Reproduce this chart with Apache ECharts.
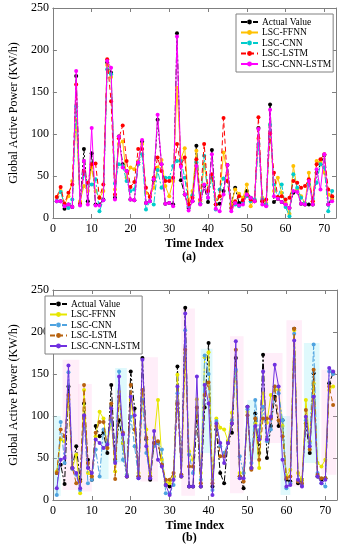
<!DOCTYPE html>
<html><head><meta charset="utf-8">
<script src="https://cdn.jsdelivr.net/npm/echarts@6/dist/echarts.min.js"></script>
<style>html,body{margin:0;padding:0;background:#fff}#c{width:346px;height:550px}</style>
</head><body><div id="c"></div>
<script>
const seriesNames = ['Actual Value','LSC-FFNN','LSC-CNN','LSC-LSTM','LSC-CNN-LSTM'];
const xTicks = [0,10,20,30,40,50,60,70];
const yTicks = [0,50,100,150,200,250];

// (a)
const actualA = [20,20,11,16,13,169,16,82,20,77,16,16,22,185,173,24,97,64,56,22,21,66,91,18,20,45,117,64,17,18,16,220,45,28,12,20,86,17,38,19,81,16,17,32,63,17,36,18,20,32,24,20,107,20,15,135,19,23,19,16,12,30,32,17,16,16,16,54,64,75,16,25];
const ffnnA = [25,32,16,26,44,117,20,38,32,60,32,24,32,182,168,34,88,91,48,60,58,68,88,30,26,36,60,69,38,26,44,155,70,83,20,32,80,20,64,32,50,22,26,78,52,16,34,29,24,40,14,22,95,24,18,111,32,48,30,18,5,62,34,26,18,54,20,68,66,54,28,22];
const cnnA = [20,31,16,12,22,133,17,52,41,40,46,8,21,177,171,41,64,62,44,32,34,64,76,10,20,16,57,36,48,48,62,68,68,48,14,27,66,17,74,24,48,10,34,47,44,12,16,14,18,26,20,22,88,22,16,111,40,24,40,13,2,52,36,24,17,40,23,42,64,60,8,32];
const lstmA = [25,37,17,30,40,159,17,56,42,64,65,24,40,189,139,28,95,110,68,37,43,82,82,36,25,48,72,56,44,44,48,88,63,72,16,24,70,22,88,32,52,16,26,119,44,12,20,26,21,28,22,20,120,20,22,101,54,25,26,22,24,44,42,36,38,46,20,64,70,76,34,26];
const cnnlstmA = [20,20,14,16,13,175,15,68,16,107,15,15,21,187,179,22,97,60,56,22,21,66,93,18,20,46,123,64,17,18,14,216,61,28,9,20,62,16,40,24,76,11,8,28,63,8,18,15,16,28,24,20,106,16,14,129,26,23,19,16,12,32,31,17,16,44,16,58,34,76,16,20];

// (b)
const actualB = [32,42,19,135,38,64,24,115,48,24,88,76,80,56,137,48,95,68,28,153,109,28,169,72,24,68,68,42,18,16,28,159,28,229,16,16,100,16,110,187,16,84,32,20,70,80,169,28,14,111,38,103,56,173,50,88,123,88,95,24,22,204,20,24,91,56,151,28,24,26,139,151];
const ffnnB = [34,72,70,120,38,54,8,131,32,28,76,105,97,62,97,34,129,68,30,119,84,32,127,84,32,74,119,48,22,20,28,149,28,175,58,48,120,32,170,176,24,97,86,84,70,104,153,32,32,105,38,91,38,127,92,125,131,131,88,28,36,202,32,24,119,70,139,44,40,48,131,135];
const cnnB = [6,93,44,152,37,30,12,99,20,24,60,28,84,68,95,46,153,48,30,99,64,26,119,56,28,64,68,60,8,8,18,127,30,202,54,32,110,24,172,150,12,94,64,56,68,95,155,52,32,108,44,119,76,111,70,84,135,127,95,14,20,198,24,18,95,68,185,32,20,16,153,150];
const lstmB = [32,84,76,125,38,20,22,137,44,28,80,93,93,62,115,25,123,80,28,137,84,28,131,74,28,68,70,42,24,24,32,115,30,179,40,40,110,20,125,140,20,88,52,52,68,91,179,28,22,101,36,97,48,97,97,97,135,95,76,26,28,204,22,20,107,60,155,30,26,26,135,113];
const cnnlstmB = [14,48,50,160,38,32,14,101,38,32,72,68,62,66,109,44,147,78,28,123,101,26,167,64,26,82,48,40,18,6,24,135,28,222,16,16,147,16,137,115,6,91,68,44,68,91,189,26,26,111,38,88,72,153,72,99,161,135,48,16,18,190,24,16,99,64,123,28,20,24,157,153];

// shaded highlight boxes in (b): [xFrom, xTo, yFrom, yTo, kind]
const shadeB = [
  [0.3,2,5,100,'c'],[2.5,6.8,12,167,'p'],[6.5,10,10,138,'p'],[12.3,14.3,25,82,'c'],
  [16,19,45,157,'c'],[22.5,27,22,170,'p'],[33,36.5,5,228,'p'],[38,41,56,180,'c'],
  [45.5,49,8,195,'p'],[50,52.5,48,119,'c'],[54,59,68,175,'p'],[58.5,61,6,100,'c'],
  [60,64,16,214,'p'],[64.5,68.5,44,187,'c'],[69,72.8,30,155,'p']
];

const colorsA = ['#000000','#FFC000','#00CCCC','#FF0000','#FF00FF'];
const colorsB = ['#000000','#E6E600','#4FA3E0','#B8620F','#7030E0'];
const dashes = [[6,2,2,2],'solid',[6,2,2,2],[5,3],'solid'];
const dataA = [actualA, ffnnA, cnnA, lstmA, cnnlstmA];
const dataB = [actualB, ffnnB, cnnB, lstmB, cnnlstmB];
const FONT = 'Liberation Serif';
const ZW = '\u200b';

function toPairs(arr){ return arr.map((v,k)=>[k+1, v]); }

function mkX(gi, pos, labels, name){
  return {type:'value', gridIndex:gi, position:pos, min:0, max:73, interval:10,
    axisLine:{show:true, onZero:false, lineStyle:{color:'#7f7f7f', width:1}},
    axisTick:{show:true, inside:true, length:4, lineStyle:{color:'#7f7f7f'}},
    axisLabel:{show:labels, color:'#000', fontFamily:FONT, fontSize:12, margin:5, showMaxLabel:false},
    splitLine:{show:false},
    name: name||'', nameLocation:'middle', nameGap:20,
    nameTextStyle:{fontFamily:FONT, fontSize:12, fontWeight:'bold', color:'#000'}};
}
function mkY(gi, pos, labels, name){
  return {type:'value', gridIndex:gi, position:pos, min:0, max:250, interval:50,
    axisLine:{show:true, onZero:false, lineStyle:{color:'#7f7f7f', width:1}},
    axisTick:{show:true, inside:true, length:4, lineStyle:{color:'#7f7f7f'}},
    axisLabel:{show:labels, color:'#000', fontFamily:FONT, fontSize:12, margin:4},
    splitLine:{show:false},
    name: name||'', nameLocation:'middle', nameGap:25,
    nameTextStyle:{fontFamily:FONT, fontSize:12, color:'#000'}};
}

const series = [];
function addSeries(datas, colors, xi, yi, suffix){
  datas.forEach((arr, s)=>{
    series.push({type:'line', name:seriesNames[s]+suffix, xAxisIndex:xi, yAxisIndex:yi,
      data: toPairs(arr), symbol:'circle', symbolSize:4, showSymbol:true,
      lineStyle:{color:colors[s], width:1, type:dashes[s]},
      itemStyle:{color:colors[s]}, z: 3+s, animation:false});
  });
}
addSeries(dataA, colorsA, 0, 0, '');
addSeries(dataB, colorsB, 2, 2, ZW);

// shaded areas
series.push({type:'line', name:'_shade', xAxisIndex:2, yAxisIndex:2, data:[], silent:true, z:1,
  markArea:{silent:true, data: shadeB.map(r=>[
    {xAxis:r[0], yAxis:r[2], itemStyle:{color: r[4]==='p' ? 'rgba(255,170,225,0.2)' : 'rgba(150,235,245,0.3)'}},
    {xAxis:r[1], yAxis:r[3]}])}});

const legendCommon = {orient:'vertical', itemWidth:17, itemHeight:6, itemGap:0.5,
  backgroundColor:'#fff', borderColor:'#808080', borderWidth:1, padding:[3,2,3,4],
  formatter: n => n.replace(ZW,''),
  textStyle:{fontFamily:FONT, fontSize:9.5, lineHeight:10, color:'#000', padding:[0,0,0,-1]}};

const option = {
  animation:false,
  grid:[{left:38, top:8, right:10, height:210, containLabel:false},
        {left:38, top:290, right:9, height:210, containLabel:false}],
  xAxis:[mkX(0,'bottom',true,'Time Index'), mkX(0,'top',false), mkX(1,'bottom',true,'Time Index'), mkX(1,'top',false)],
  yAxis:[mkY(0,'left',true,'Global Active Power (KW/h)'), mkY(0,'right',false), mkY(1,'left',true,'Global Active Power (KW/h)'), mkY(1,'right',false)],
  legend:[
    Object.assign({}, legendCommon, {left:236, top:14, data:seriesNames.map(n=>({name:n}))}),
    Object.assign({}, legendCommon, {left:45, top:296, data:seriesNames.map(n=>({name:n+ZW}))})
  ],
  graphic:[
    {type:'text', left:182, top:251, style:{text:'(a)', font:'bold 12px "Liberation Serif"', fill:'#000'}},
    {type:'text', left:182, top:532, style:{text:'(b)', font:'bold 12px "Liberation Serif"', fill:'#000'}}
  ],
  series: series
};
const chart = echarts.init(document.getElementById('c'), null, {renderer:'canvas'});
chart.setOption(option);
</script></body></html>
